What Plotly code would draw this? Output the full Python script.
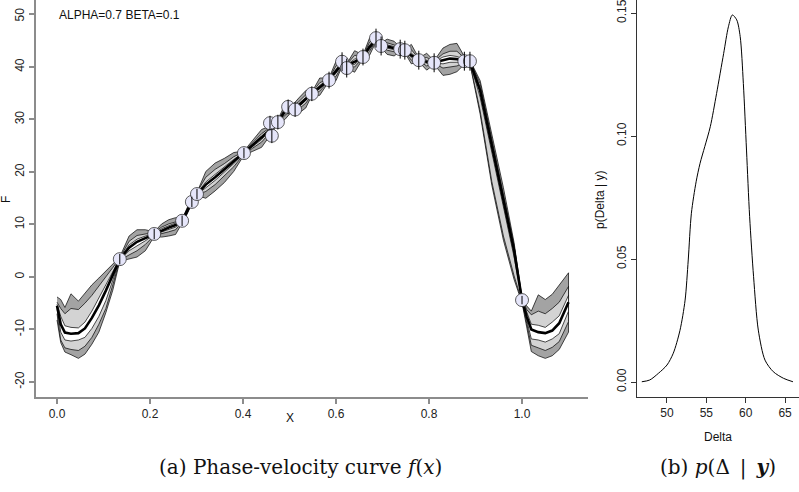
import plotly.graph_objects as go

# ---------------- data: posterior bands of f(x) ----------------
x_grid = [0.000, 0.008, 0.017, 0.030, 0.046, 0.060, 0.075, 0.090, 0.105, 0.120, 0.135,
          0.155, 0.172, 0.190, 0.209, 0.225, 0.240, 0.255, 0.269, 0.280, 0.290, 0.301,
          0.320, 0.340, 0.360, 0.380, 0.402, 0.420, 0.440, 0.460, 0.475, 0.490, 0.505,
          0.520, 0.535, 0.548, 0.565, 0.585, 0.600, 0.613, 0.623, 0.640, 0.658, 0.672,
          0.686, 0.697, 0.710, 0.725, 0.738, 0.748, 0.762, 0.778, 0.795, 0.811, 0.830,
          0.845, 0.860, 0.876, 0.888, 0.910, 0.935, 0.960, 0.983, 1.000, 1.010, 1.020,
          1.035, 1.050, 1.065, 1.080, 1.100]

f_lo95 = [-8.2, -12.5, -14.3, -14.8, -15.5, -14.7, -12.8, -10.5, -6.8, -2.5, 3.0,
          3.4, 3.8, 5.0, 7.7, 7.6, 7.8, 8.1, 10.3, 12.0, 14.0, 15.5,
          15.0, 16.4, 18.0, 20.1, 23.2, 23.9, 24.7, 27.2, 29.1, 30.0, 31.5,
          31.2, 32.2, 34.6, 34.6, 37.3, 37.4, 40.1, 39.8, 39.0, 41.6, 42.2,
          44.8, 43.8, 42.4, 42.1, 43.0, 42.7, 40.6, 41.0, 39.4, 40.5, 38.4,
          38.6, 39.1, 40.5, 40.6, 31.0, 17.5, 7.0, -0.5, -4.9, -9.5, -14.2,
          -15.0, -15.5, -15.0, -13.8, -10.5]
f_lo80 = [-7.0, -12.0, -13.5, -13.8, -14.0, -13.2, -11.5, -9.0, -6.0, -1.5, 3.2,
          4.2, 5.0, 6.2, 7.9, 8.2, 8.6, 9.0, 10.5, 12.2, 14.1, 15.6,
          16.3, 17.6, 19.2, 21.0, 23.4, 24.5, 25.7, 27.6, 29.3, 30.8, 31.8,
          32.0, 33.1, 34.7, 35.4, 37.4, 38.2, 40.3, 40.0, 40.0, 41.8, 43.0,
          45.0, 44.0, 43.2, 42.9, 43.2, 42.9, 41.3, 41.2, 40.2, 40.7, 39.8,
          40.0, 40.2, 40.8, 40.8, 31.6, 18.2, 7.8, 0.2, -4.7, -8.8, -13.0,
          -13.5, -14.0, -13.4, -12.3, -8.5]
f_lo50 = [-6.0, -10.5, -12.0, -12.2, -12.0, -11.5, -9.8, -7.5, -4.5, -0.5, 3.3,
          5.0, 6.0, 6.9, 8.1, 8.6, 9.0, 9.5, 10.6, 12.4, 14.2, 15.7,
          17.0, 18.4, 20.0, 21.6, 23.5, 24.8, 26.2, 28.0, 29.5, 31.2, 32.0,
          32.4, 33.6, 34.8, 35.9, 37.5, 38.8, 40.5, 40.2, 40.5, 41.9, 43.4,
          45.1, 44.1, 43.6, 43.3, 43.3, 43.0, 41.8, 41.3, 40.7, 40.8, 40.6,
          40.9, 40.9, 41.0, 40.9, 34.2, 23.5, 13.4, 3.8, -4.5, -8.3, -11.8,
          -12.0, -12.4, -11.8, -10.8, -6.5]
f_med = [-5.5, -9.0, -10.6, -10.8, -10.7, -9.8, -7.8, -5.4, -2.6, 0.5, 3.4,
         5.6, 6.7, 7.4, 8.2, 8.9, 9.4, 9.9, 10.7, 12.6, 14.3, 15.8,
         17.6, 19.0, 20.5, 22.0, 23.6, 25.0, 26.6, 28.2, 29.6, 31.5, 32.1,
         32.7, 33.9, 34.9, 36.2, 37.6, 39.2, 40.6, 40.3, 41.0, 42.0, 43.8,
         45.2, 44.2, 43.9, 43.6, 43.4, 43.1, 42.2, 41.4, 41.0, 40.9, 41.3,
         41.6, 41.5, 41.2, 41.0, 35.5, 25.0, 15.0, 5.0, -4.4, -7.5, -10.0,
         -10.5, -10.7, -10.2, -8.8, -4.8]
f_hi50 = [-5.2, -7.5, -9.3, -9.6, -9.7, -8.6, -6.5, -4.0, -1.5, 1.2, 3.5,
          6.1, 7.2, 7.8, 8.3, 9.2, 9.7, 10.2, 10.8, 12.8, 14.4, 15.9,
          18.1, 19.5, 20.9, 22.4, 23.7, 25.2, 26.9, 28.4, 29.7, 31.8, 32.2,
          33.0, 34.2, 35.0, 36.5, 37.7, 39.6, 40.7, 40.4, 41.5, 42.1, 44.2,
          45.3, 44.3, 44.2, 43.9, 43.5, 43.2, 42.6, 41.5, 41.3, 41.0, 41.9,
          42.2, 42.0, 41.4, 41.1, 36.1, 25.6, 15.6, 5.5, -4.3, -6.8, -9.0,
          -9.2, -9.6, -8.6, -7.4, -3.5]
f_hi80 = [-4.8, -6.0, -7.0, -6.0, -6.2, -5.0, -3.5, -1.8, 0.0, 1.8, 3.6,
          6.8, 7.9, 8.2, 8.5, 9.5, 10.1, 10.5, 10.9, 13.0, 14.5, 16.0,
          19.0, 20.5, 21.6, 22.9, 23.9, 25.5, 27.3, 28.6, 29.9, 32.1, 32.4,
          33.4, 34.7, 35.1, 37.0, 37.8, 40.2, 40.9, 40.5, 42.2, 42.2, 44.7,
          45.4, 44.5, 44.6, 44.2, 43.6, 43.3, 43.3, 41.6, 41.8, 41.1, 42.5,
          43.0, 43.0, 41.7, 41.2, 36.8, 26.3, 16.3, 6.0, -4.1, -6.2, -7.2,
          -6.5, -7.0, -6.0, -4.8, -1.8]
f_hi95 = [-3.8, -4.3, -5.8, -3.2, -4.6, -3.0, -1.5, -0.2, 1.2, 2.6, 3.8,
          7.8, 9.0, 9.0, 8.6, 10.1, 10.9, 11.3, 11.0, 13.2, 14.6, 16.1,
          20.1, 21.7, 22.6, 23.7, 24.0, 26.0, 28.1, 28.8, 30.0, 32.8, 32.6,
          34.1, 35.5, 35.2, 37.9, 37.9, 41.1, 41.0, 40.6, 43.1, 42.3, 45.5,
          45.5, 44.6, 45.3, 44.9, 43.7, 43.4, 44.3, 41.7, 42.6, 41.2, 43.6,
          44.3, 44.5, 42.0, 41.3, 37.4, 27.0, 17.0, 6.5, -4.0, -5.5, -6.5,
          -3.4, -4.3, -3.3, -1.6, 0.8]

# observations with error bars
obs_x = [0.135, 0.209, 0.269, 0.290, 0.301, 0.402, 0.458, 0.462, 0.475, 0.497,
         0.512, 0.548, 0.585, 0.613, 0.623, 0.658, 0.686, 0.697, 0.738, 0.748,
         0.778, 0.811, 0.876, 0.888, 1.000]
obs_y = [3.4, 8.2, 10.7, 14.3, 15.8, 23.6, 29.3, 26.9, 29.5, 32.4,
         31.9, 34.9, 37.5, 41.0, 39.8, 41.9, 45.5, 44.0, 43.4, 43.2,
         41.3, 40.8, 41.1, 41.1, -4.4]
obs_err = [1.0, 1.0, 1.0, 1.0, 1.0, 1.0, 1.4, 1.4, 1.4, 1.4,
           1.4, 1.4, 1.6, 1.8, 1.8, 1.6, 1.8, 1.8, 1.8, 1.8,
           1.8, 1.8, 1.8, 1.8, 0.8]

# ---------------- data: posterior density of Delta ----------------
delta_vals = [46.8, 47.8, 48.9, 50.0, 50.8, 51.65, 52.3, 52.7, 53.1, 53.7, 54.2,
              54.8, 55.5, 56.3, 57.2, 57.8, 58.3, 58.86, 59.3, 59.7, 60.1, 60.5,
              61.0, 61.6, 62.45, 63.5, 64.8, 66.0]
density_vals = [0.0001, 0.0008, 0.0035, 0.0069, 0.0117, 0.021, 0.0333, 0.0496, 0.0686,
                0.0814, 0.0889, 0.0957, 0.1038, 0.1173, 0.1336, 0.1444, 0.1492, 0.1472,
                0.1404, 0.1214, 0.0943, 0.0672, 0.0428, 0.0211, 0.0089, 0.0042, 0.0015,
                0.0001]

left_xticks = [0.0, 0.2, 0.4, 0.6, 0.8, 1.0]
left_yticks = [-20, -10, 0, 10, 20, 30, 40, 50]
right_xticks = [50, 55, 60, 65]
right_yticks = [0.00, 0.05, 0.10, 0.15]

W, H = 799, 492
FONT = "Liberation Sans"
Y_TOP, Y_BOT = 52.76, -22.86

fig = go.Figure()


def band(lo, hi, color):
    fig.add_trace(go.Scatter(
        x=x_grid + x_grid[::-1], y=hi + lo[::-1],
        mode="lines", fill="toself", fillcolor=color,
        line=dict(color="black", width=0.7),
        xaxis="x", yaxis="y", hoverinfo="skip", showlegend=False))


band(f_lo95, f_hi95, "#a3a3a3")
band(f_lo80, f_hi80, "#d3d3d3")
band(f_lo50, f_hi50, "#ffffff")

fig.add_trace(go.Scatter(x=x_grid, y=f_med, mode="lines",
                         line=dict(color="black", width=2.6),
                         xaxis="x", yaxis="y", showlegend=False, hoverinfo="skip"))

fig.add_trace(go.Scatter(x=obs_x, y=obs_y, mode="markers",
                         marker=dict(size=13, color="#e6e6fa",
                                     line=dict(color="#333333", width=0.8)),
                         xaxis="x", yaxis="y", showlegend=False))
fig.add_trace(go.Scatter(x=obs_x, y=obs_y, mode="markers",
                         marker=dict(size=2, color="rgba(0,0,0,0)"),
                         error_y=dict(type="data", array=obs_err, visible=True,
                                      color="black", thickness=1, width=0),
                         xaxis="x", yaxis="y", showlegend=False))

fig.add_trace(go.Scatter(x=delta_vals, y=density_vals, mode="lines",
                         line=dict(color="black", width=1, shape="spline", smoothing=0.8),
                         xaxis="x2", yaxis="y2", showlegend=False))

ydom = [(H - 397) / H, 1.0]
axis_common = dict(showgrid=False, zeroline=False, showline=True, ticks="outside",
                   ticklen=5, automargin=False, ticklabeloverflow="allow",
                   tickfont=dict(family=FONT, size=12, color="#222222"))

# the top tick label of the left axis sits at the page edge; it is placed as an annotation
left_ytext = [str(v) if v != left_yticks[-1] else "" for v in left_yticks]

fig.update_layout(
    width=W, height=H,
    margin=dict(l=0, r=0, t=0, b=0, pad=0),
    paper_bgcolor="white", plot_bgcolor="white",
    xaxis=dict(domain=[36 / W, 588 / W], range=[-0.0452, 1.1419], anchor="y",
               tickvals=left_xticks, ticktext=[f"{v:.1f}" for v in left_xticks],
               linecolor="#8c8c8c", linewidth=2, tickcolor="#8c8c8c", tickwidth=1.5,
               **axis_common),
    yaxis=dict(domain=ydom, range=[Y_BOT, Y_TOP], anchor="x",
               tickvals=left_yticks, ticktext=left_ytext,
               tickangle=-90,
               linecolor="#8c8c8c", linewidth=2, tickcolor="#8c8c8c", tickwidth=1.5,
               **axis_common),
    xaxis2=dict(domain=[637 / W, 1.0], range=[46.19, 66.77], anchor="y2",
                tickvals=right_xticks, ticktext=[str(v) for v in right_xticks],
                linecolor="#333333", linewidth=1, tickcolor="#333333",
                **axis_common),
    yaxis2=dict(domain=ydom, range=[-0.0061, 0.1553], anchor="x2",
                tickvals=right_yticks, ticktext=[f"{v:.2f}" for v in right_yticks],
                tickangle=-90,
                linecolor="#333333", linewidth=1, tickcolor="#333333",
                **axis_common),
)


def ann(text, px, py, size=12, angle=0, family=FONT, xanchor="center", color="#111111"):
    fig.add_annotation(text=text, x=px / W, y=1 - py / H, xref="paper", yref="paper",
                       showarrow=False, textangle=angle, xanchor=xanchor, yanchor="middle",
                       font=dict(family=family, size=size, color=color))


# top left-axis tick label, positioned on the axis value
fig.add_annotation(text=str(left_yticks[-1]), x=20 / W, xref="paper",
                   y=left_yticks[-1], yref="y", showarrow=False, textangle=-90,
                   xanchor="center", yanchor="middle",
                   font=dict(family=FONT, size=12, color="#222222"))

ann("ALPHA=0.7 BETA=0.1", 57, 15, xanchor="left")
ann("F", 6, 200, angle=-90)
ann("X", 290, 418)
ann("Delta", 718, 437)
ann("p(Delta | y)", 600, 200, angle=-90)
ann("(a) Phase-velocity curve <i>f</i>(<i>x</i>)", 300, 467, size=20, family="DejaVu Serif")
ann("(b) <i>p</i>(Δ\u2002|\u2002<b><i>y</i></b>)", 718, 467, size=20, family="DejaVu Serif")

fig.write_html("out.html", config={"displayModeBar": False},
               post_script="document.body.style.margin='0';document.body.style.overflow='hidden';")
